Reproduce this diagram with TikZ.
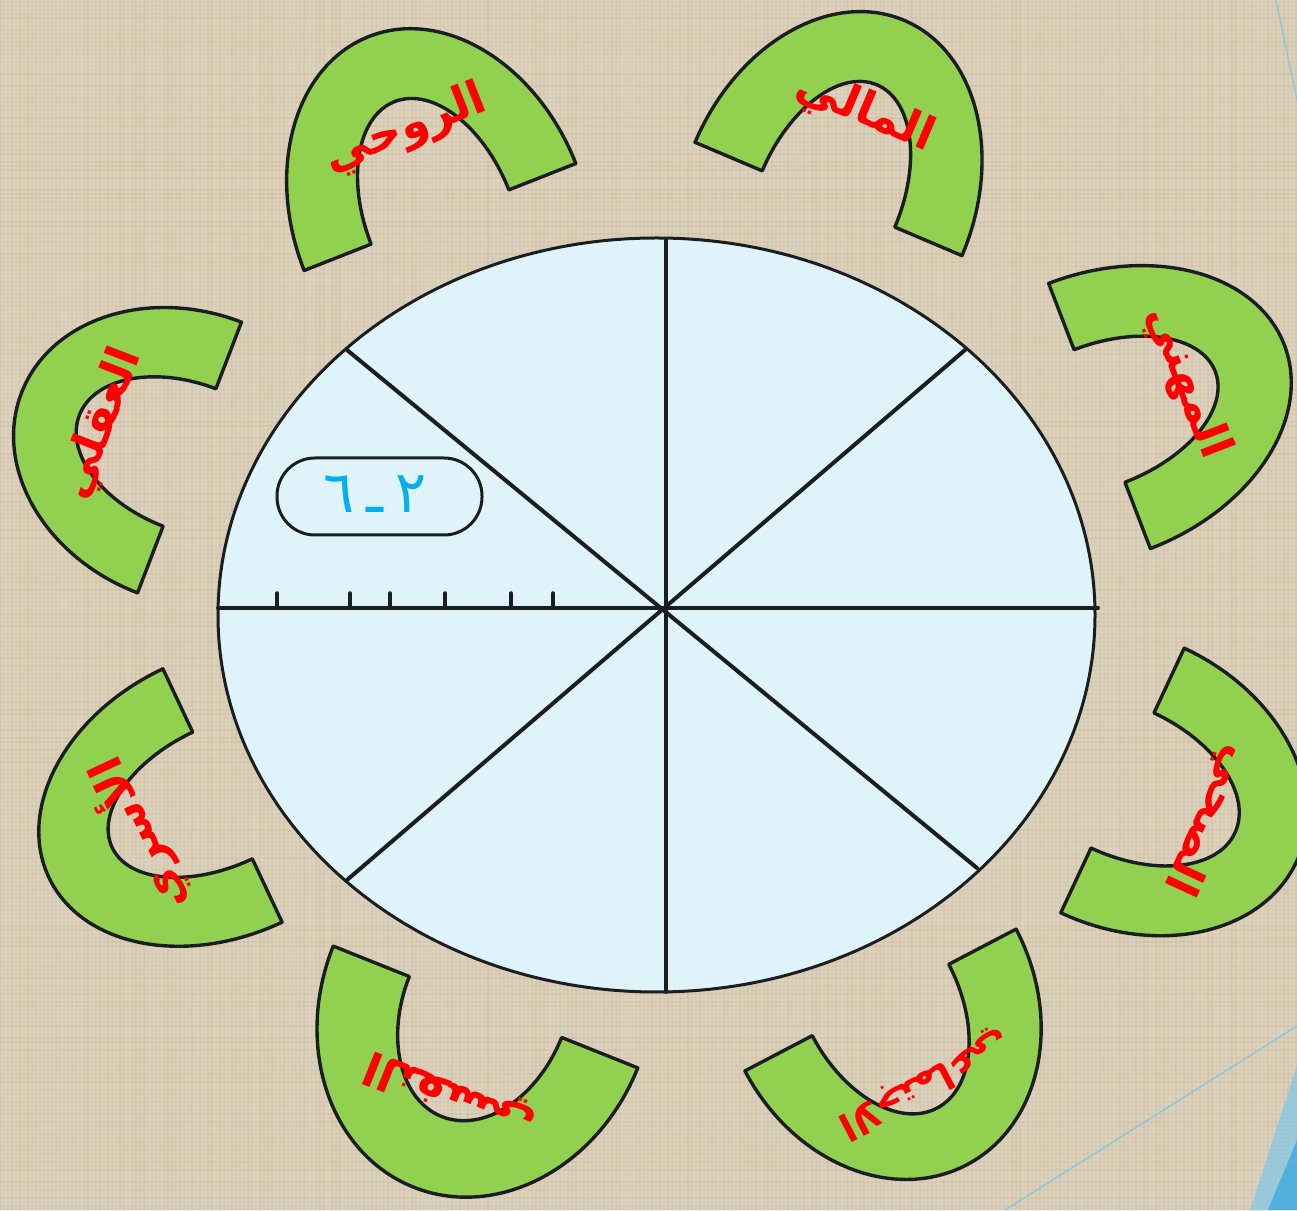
\documentclass[tikz,border=0pt]{standalone}
\usepackage{fontspec}
\usetikzlibrary{shapes.geometric}
\newfontfamily\arabicfont[Script=Arabic]{DejaVu Sans}
\TeXXeTstate=1
\definecolor{bgc}{HTML}{DDD2BC}
\definecolor{texc}{HTML}{B0A084}
\definecolor{shoec}{HTML}{92D050}
\definecolor{discc}{HTML}{DFF3FB}
\definecolor{ink}{HTML}{1A1E21}
\definecolor{lblc}{HTML}{FF0000}
\definecolor{numc}{HTML}{00B0F0}
\definecolor{decoc}{HTML}{7FC8E8}
\definecolor{decod}{HTML}{3FA9DC}
\tikzset{
  shoefill/.style={fill=shoec, draw=ink, line width=3.4pt, line join=round},
  lbltext/.style={text=lblc, font=\arabicfont\bfseries\fontsize{46}{50}\selectfont, inner sep=0pt},
  radial/.style={draw=ink, line width=4pt, line cap=round},
  tick/.style={draw=ink, line width=3.5pt, line cap=round},
  discnode/.style={ellipse, draw=ink, line width=3pt, fill=discc, inner sep=0pt, minimum width=877pt, minimum height=754pt},
  pill/.style={draw=ink, line width=3pt, rounded corners=38pt, minimum width=205pt, minimum height=77pt, inner sep=0pt},
  decoline/.style={draw=decoc, line width=1.2pt}
}
% #1 name, #2 cx, #3 cy, #4 outward angle, #5 outer half width, #6 inner half width, #7 outer depth, #8 inner depth, #9 text
\newcommand\shoe[9]{%
  \begin{scope}[shift={(#2,#3)}, rotate=#4-90]
    \draw[shoefill] (#5,0) arc[start angle=0, end angle=180, x radius=#5, y radius=#7]
      -- (-#6,0) arc[start angle=180, end angle=0, x radius=#6, y radius=#8] -- cycle;
    \node[lbltext, transform shape] (#1) at (0,94) {\beginR #9\endR};
  \end{scope}}
\begin{document}
\begin{tikzpicture}[x=1pt, y=1pt]
\useasboundingbox (0,0) rectangle (1297,1210);
\fill[bgc] (0,0) rectangle (1297,1210);
\begin{scope}
\clip (0,0) rectangle (1297,1210);
\pgfmathsetseed{7}
\foreach \i in {0,4,...,1296}{%
  \pgfmathsetmacro\op{0.03+0.15*rnd}
  \draw[line width=1.2pt, draw=texc, opacity=\op] (\i,0) -- (\i,1210);}
\foreach \j in {0,4,...,1208}{%
  \pgfmathsetmacro\op{0.03+0.15*rnd}
  \draw[line width=1.2pt, draw=texc, opacity=\op] (0,\j) -- (1297,\j);}
% theme decorations
\fill[decoc, opacity=0.7] (1297,145) -- (1297,0) -- (1250,0) -- cycle;
\fill[decod, opacity=0.8] (1297,70) -- (1297,0) -- (1268,0) -- cycle;
\coordinate (dl1a) at (1005,0); \coordinate (dl1b) at (1297,184);
\coordinate (dl2a) at (1276,1210); \coordinate (dl2b) at (1297,1110);
\draw[decoline] (dl1a) -- (dl1b);
\draw[decoline] (dl2a) -- (dl2b);
\end{scope}

% horseshoes
\shoe{s1}{440}{993}{111.5}{146}{74}{194}{124}{الروحي}
\shoe{s2}{828.5}{1011}{67}{145}{72}{194}{124}{المالي}
\shoe{s3}{1099.5}{794}{21}{142}{71}{198}{124}{المهني}
\shoe{s4}{1122.5}{429.5}{-25}{146}{74.5}{192}{124}{الصحي}
\shoe{s5}{880.5}{210}{-62.4}{153}{77}{186}{122}{\fontsize{38}{42}\selectfont الاجتماعي}
\shoe{s6}{485.5}{203}{-111.8}{164}{82}{194}{118}{النفسي}
\shoe{s7}{222.5}{414.5}{205.2}{140}{70}{192}{122}{الأسري}
\shoe{s8}{189.5}{752.5}{159}{145}{73.6}{180}{118}{العقلي}

% disc
\node[discnode] (disc) at (656.5,595) {};
\coordinate (O) at (663,602);
\coordinate (h1) at (218,602); \coordinate (h2) at (1098,602);
\coordinate (v1) at (666,970); \coordinate (v2) at (666,218);
\coordinate (d1) at (347,860); \coordinate (d2) at (977,342);
\coordinate (d3) at (965,860); \coordinate (d4) at (347,330);
\draw[radial] (h1) -- (h2);
\draw[radial] (v1) -- (v2);
\draw[radial] (d1) -- (d2);
\draw[radial] (d3) -- (d4);
\foreach \x in {277,350,390,445,511,553}{\draw[tick] (\x,602) -- (\x,617);}

% tag
\node[pill] (tag) at (379.5,713.5) {};
\node[text=numc, font=\arabicfont\fontsize{58}{62}\selectfont, inner sep=0pt] (tagtext) at (375,716) {\beginR ٢\hspace{12pt}ـ\hspace{12pt}٦\endR};
\end{tikzpicture}
\end{document}
